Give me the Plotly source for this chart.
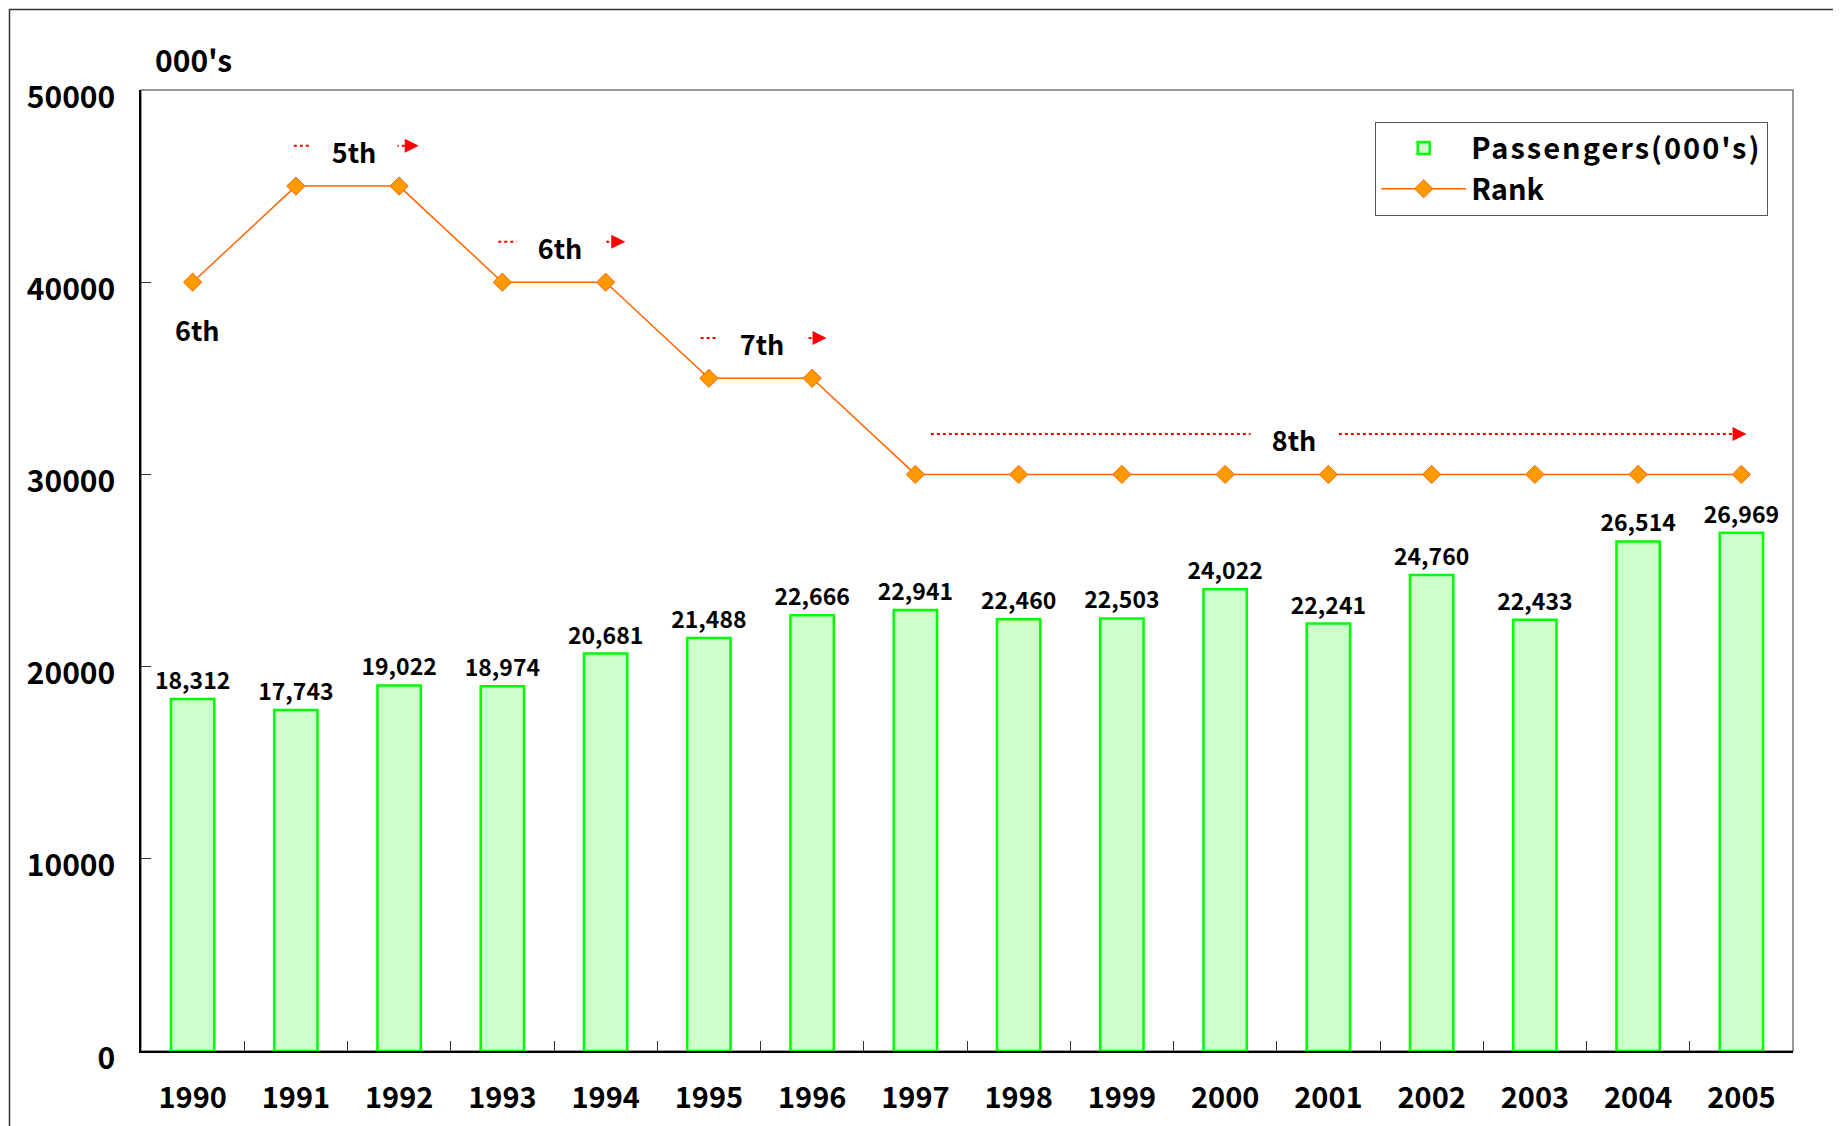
import plotly.graph_objects as go

# -------------------------------------------------
# Data
# -------------------------------------------------

years = ["1990", "1991", "1992", "1993", "1994", "1995", "1996", "1997",
         "1998", "1999", "2000", "2001", "2002", "2003", "2004", "2005"]

passengers = [18312, 17743, 19022, 18974, 20681, 21488, 22666, 22941,
              22460, 22503, 24022, 22241, 24760, 22433, 26514, 26969]

rank = [6, 5, 5, 6, 6, 7, 7, 8, 8, 8, 8, 8, 8, 8, 8, 8]

# rank bands: label, rank, arrow start idx, arrow end idx, label idx
rank_labels = ["5th", "6th", "7th", "8th"]
rank_levels = [5, 6, 7, 8]
arrow_start = [0.98, 2.96, 4.92, 7.15]
arrow_end = [2.19, 4.19, 6.14, 15.05]
label_pos = [1.56, 3.56, 5.51, 10.67]

FONT = "Noto Sans CJK JP"


def bold(size):
    return dict(family=FONT, size=size, color="black", weight="bold")


fig = go.Figure()

fig.add_trace(
    go.Bar(
        x=years,
        y=passengers,
        name="<span style='letter-spacing:2px'>Passengers(000's)</span>",
        marker=dict(color="#CCFFCC", line=dict(color="#00FF00", width=2.5)),
        width=0.42,
        texttemplate="%{y:,}",
        textposition="outside",
        constraintext="none",
        textfont=bold(23),
        cliponaxis=False,
    )
)

fig.add_trace(
    go.Scatter(
        x=years,
        y=rank,
        name="Rank",
        yaxis="y2",
        mode="lines+markers",
        line=dict(color="#FF6600", width=1.5),
        marker=dict(symbol="diamond", size=14, color="#FF9900",
                    line=dict(color="#FF6600", width=1)),
    )
)

# -------------------------------------------------
# Rank annotations
# -------------------------------------------------

fig.add_annotation(
    x=0.05, y=6.49, xref="x", yref="y2", text="6th",
    showarrow=False, font=bold(27)
)

for lab, lvl, x0, x1, xl in zip(rank_labels, rank_levels, arrow_start,
                                arrow_end, label_pos):
    fig.add_shape(
        type="line", xref="x", yref="y2",
        x0=x0, x1=x1 - 0.08, y0=lvl - 0.42, y1=lvl - 0.42,
        line=dict(color="red", width=2, dash="dot"),
    )
    fig.add_annotation(
        x=x1, y=lvl - 0.42, xref="x", yref="y2",
        ax=x1 - 0.06, ay=lvl - 0.42, axref="x", ayref="y2",
        text="", showarrow=True, arrowhead=2, arrowsize=1.4,
        arrowwidth=2, arrowcolor="red",
    )
    fig.add_annotation(
        x=xl, y=lvl - 0.36, xref="x", yref="y2", text=lab,
        showarrow=False, bgcolor="white", width=84,
        font=bold(27)
    )

fig.add_annotation(
    x=0.007, y=1.032, xref="paper", yref="paper",
    xanchor="left", yanchor="middle",
    text="000's", showarrow=False, font=bold(30)
)

# plot frame and outer border
fig.add_shape(type="rect", xref="paper", yref="paper", x0=0, x1=1, y0=0, y1=1,
              line=dict(color="#777777", width=1.5), layer="below")
fig.add_shape(type="rect", xref="paper", yref="paper",
              x0=-0.0796, x1=1.2, y0=-0.2, y1=1.0837,
              line=dict(color="#333333", width=1.5))

fig.update_layout(
    template="plotly_white",
    width=1841,
    height=1126,
    margin=dict(l=133, r=56, t=82, b=83),
    plot_bgcolor="white",
    paper_bgcolor="white",
    font=dict(family=FONT, color="black"),
    bargap=0.58,
    showlegend=True,
    legend=dict(
        x=0.985, y=0.967, xanchor="right", yanchor="top",
        bordercolor="#555555", borderwidth=1, bgcolor="white",
        font=bold(29),
        traceorder="normal",
        itemwidth=85,
    ),
    xaxis=dict(
        type="category",
        range=[-0.5, 15.5],
        showgrid=False,
        showline=True, linecolor="black", linewidth=1.5,
        ticks="inside", ticklen=10, tickcolor="#333333",
        tickson="boundaries",
        tickfont=bold(29),
        ticklabelstandoff=20,
    ),
    yaxis=dict(
        range=[0, 50000],
        dtick=10000,
        showgrid=False, zeroline=False,
        showline=True, linecolor="black", linewidth=1.5,
        ticks="inside", ticklen=10, tickcolor="#333333",
        tickformat="d",
        tickfont=bold(30),
        ticklabelstandoff=18,
        ticklabelshift=7,
    ),
    yaxis2=dict(
        overlaying="y",
        range=[14, 4],
        visible=False,
    ),
)

fig.write_html("out.html")
